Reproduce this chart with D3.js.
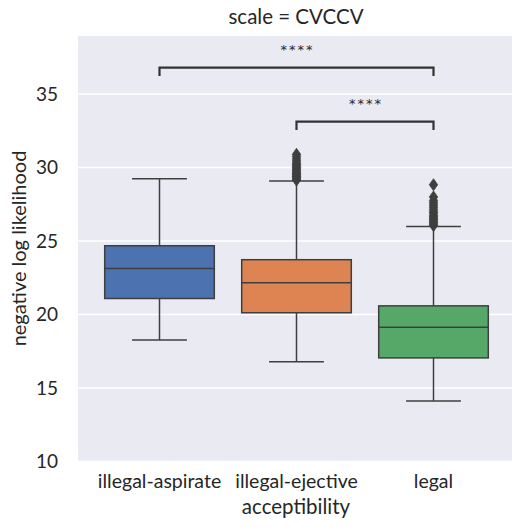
<!DOCTYPE html>
<html>
<head>
<meta charset="utf-8">
<script src="https://cdn.jsdelivr.net/npm/d3@7"></script>
<style>
  html, body { margin: 0; padding: 0; background: #ffffff; }
  svg { display: block; }
  text { font-family: Lato, "Open Sans", sans-serif; fill: #262626; }
</style>
</head>
<body>
<svg id="chart" width="512" height="530"></svg>
<script>
// ---- data ----
const categories = ["illegal-aspirate", "illegal-ejective", "legal"];
const colors = ["#4c72b0", "#dd8452", "#55a868"];
const whiskerLow = [18.26, 16.78, 14.12];
const q1 = [21.09, 20.12, 17.05];
const medians = [23.13, 22.16, 19.14];
const q3 = [24.68, 23.73, 20.59];
const whiskerHigh = [29.24, 29.09, 25.99];
const outliersEjective = [29.15, 29.2, 29.3, 29.35, 29.4, 29.5, 29.55, 29.6, 29.7, 29.8, 29.9, 30.0, 30.1, 30.2, 30.3, 30.45, 30.6, 30.75, 30.9];
const outliersLegal = [26.05, 26.15, 26.25, 26.35, 26.45, 26.55, 26.65, 26.75, 26.9, 27.0, 27.15, 27.3, 27.45, 27.6, 27.75, 28.0, 28.83];
const outliers = [[], outliersEjective, outliersLegal];
const yTicks = [10, 15, 20, 25, 30, 35];
const annotations = [
  { from: "illegal-ejective", to: "legal", y: 33.13, label: "****" },
  { from: "illegal-aspirate", to: "legal", y: 36.8, label: "****" }
];
const title = "scale = CVCCV";
const xLabel = "acceptibility";
const yLabel = "negative log likelihood";

// ---- layout ----
const svg = d3.select("#chart");
const plotLeft = 78, plotRight = 512, plotTop = 36, plotBottom = 461;

const x = d3.scaleBand().domain(categories).range([91, 502]).padding(0);
const y = d3.scaleLinear().domain([10, 38.95]).range([461.5, plotTop]);

// background
svg.append("rect")
  .attr("x", plotLeft).attr("y", plotTop)
  .attr("width", plotRight - plotLeft).attr("height", plotBottom - plotTop)
  .attr("fill", "#eaeaf2");

// grid
svg.append("g").selectAll("line").data(yTicks).join("line")
  .attr("x1", plotLeft).attr("x2", plotRight)
  .attr("y1", d => y(d)).attr("y2", d => y(d))
  .attr("stroke", "#ffffff").attr("stroke-width", 1.5);

// y axis
const yAxis = d3.axisLeft(y).tickValues(yTicks).tickSize(0).tickPadding(0);
const gy = svg.append("g").attr("transform", `translate(${plotLeft - 20},0)`).call(yAxis);
gy.select(".domain").remove();
gy.selectAll("text").style("font-size", "19px").attr("fill", "#262626")
  .style("font-family", "Lato, sans-serif");

// x axis
const xAxis = d3.axisBottom(x).tickSize(0).tickPadding(0);
const gx = svg.append("g").attr("transform", `translate(0,488)`).call(xAxis);
gx.select(".domain").remove();
gx.selectAll("text").attr("dy", "0").style("font-size", "19.5px").attr("fill", "#262626")
  .style("font-family", "Lato, sans-serif");

// boxes
const lineColor = "#3f3f3f";
const bw = x.bandwidth() * 0.8;
const boxes = svg.append("g");
categories.forEach((c, i) => {
  const cx = x(c) + x.bandwidth() / 2;
  const g = boxes.append("g");
  g.append("line").attr("x1", cx).attr("x2", cx)
    .attr("y1", y(q3[i])).attr("y2", y(whiskerHigh[i]))
    .attr("stroke", lineColor).attr("stroke-width", 1.5);
  g.append("line").attr("x1", cx).attr("x2", cx)
    .attr("y1", y(q1[i])).attr("y2", y(whiskerLow[i]))
    .attr("stroke", lineColor).attr("stroke-width", 1.5);
  [whiskerHigh[i], whiskerLow[i]].forEach(v => {
    g.append("line").attr("x1", cx - bw / 4).attr("x2", cx + bw / 4)
      .attr("y1", y(v)).attr("y2", y(v))
      .attr("stroke", lineColor).attr("stroke-width", 1.5);
  });
  g.append("rect")
    .attr("x", cx - bw / 2).attr("y", y(q3[i]))
    .attr("width", bw).attr("height", y(q1[i]) - y(q3[i]))
    .attr("fill", colors[i]).attr("stroke", lineColor).attr("stroke-width", 1.5);
  g.append("line").attr("x1", cx - bw / 2).attr("x2", cx + bw / 2)
    .attr("y1", y(medians[i])).attr("y2", y(medians[i]))
    .attr("stroke", lineColor).attr("stroke-width", 1.5);
  g.selectAll("path.fl").data(outliers[i]).join("path")
    .attr("class", "fl")
    .attr("d", v => {
      const py = y(v);
      return `M${cx},${py - 6}L${cx + 4.2},${py}L${cx},${py + 6}L${cx - 4.2},${py}Z`;
    })
    .attr("fill", lineColor).attr("stroke", lineColor).attr("stroke-width", 0.8);
});

// annotations
const ann = svg.append("g");
annotations.forEach(a => {
  const x1 = x(a.from) + x.bandwidth() / 2;
  const x2 = x(a.to) + x.bandwidth() / 2;
  const yy = y(a.y);
  const drop = 8.5;
  ann.append("path")
    .attr("d", `M${x1},${yy + drop}L${x1},${yy}L${x2},${yy}L${x2},${yy + drop}`)
    .attr("fill", "none").attr("stroke", "#333333").attr("stroke-width", 2.2);
  ann.append("text")
    .attr("x", (x1 + x2) / 2 + 1).attr("y", yy - 14)
    .attr("text-anchor", "middle")
    .style("font-family", "'DejaVu Sans', sans-serif")
    .style("font-size", "13px").style("letter-spacing", "2px").attr("fill", "#555")
    .text(a.label);
});

// title
svg.append("text").attr("x", 296).attr("y", 24)
  .attr("text-anchor", "middle").style("font-size", "20.5px")
  .text(title);

// x label
svg.append("text").attr("x", 296).attr("y", 514)
  .attr("text-anchor", "middle").style("font-size", "20.5px")
  .text(xLabel);

// y label
svg.append("text")
  .attr("transform", `translate(26,${(plotTop + plotBottom) / 2}) rotate(-90)`)
  .attr("text-anchor", "middle").style("font-size", "20px")
  .text(yLabel);
</script>
</body>
</html>
